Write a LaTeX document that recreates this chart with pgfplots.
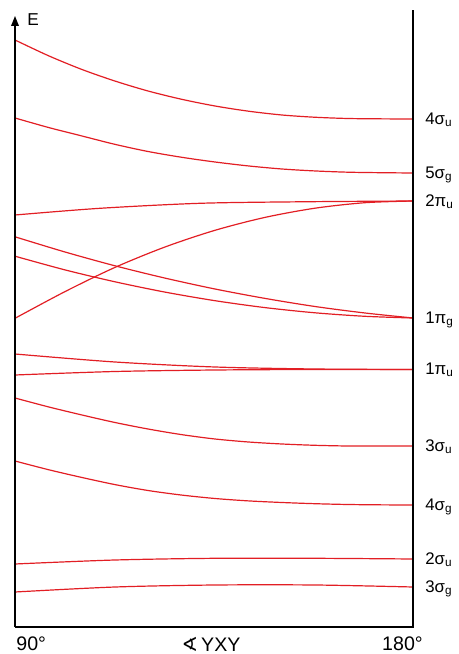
\documentclass[border=0pt]{standalone}
\usepackage{pgfplots}
\pgfplotsset{compat=1.18}
\usepackage{fontspec}
\setmainfont{Liberation Sans}
\newfontfamily\dejavu{DejaVu Sans}
\usetikzlibrary{arrows.meta}
\definecolor{lred}{RGB}{226,30,36}
\begin{document}
\begin{tikzpicture}[wl/.style={draw=lred, line width=0.6pt, smooth, mark=none}]
\useasboundingbox (-7.5pt,-13.5pt) rectangle (222pt,313.5pt);
\begin{axis}[
  at={(0,0)}, anchor=south west,
  scale only axis, width=199pt, height=307.5pt,
  xmin=90, xmax=180, ymin=0, ymax=615,
  axis line style={draw=none}, ticks=none, clip=false,
]
% 4 sigma_u
\addplot[wl] coordinates {(90,587) (97.58,571.25) (105.15,557.5) (112.61,545.95) (120.08,536) (127.65,527.75) (135.23,521) (142.81,515.8) (150.38,512) (157.84,509.75) (165.30,508.5) (172.76,508.15) (180,508)};
% 5 sigma_g
\addplot[wl] coordinates {(90,509) (97.58,499.5) (105.15,491) (112.61,482.65) (120.08,475.5) (127.65,469.75) (135.23,465) (142.81,461.05) (150.38,458) (157.84,456.05) (165.30,454.8) (172.76,454.3) (180,454)};
% 2 pi_u (flat)
\addplot[wl] coordinates {(90,412) (109.22,418.7) (131.83,423.7) (154.45,425.2) (180,426)};
% to 1 pi_g (upper)
\addplot[wl] coordinates {(90,390.2) (101.31,375) (112.61,361.2) (123.92,348.9) (135.23,338) (146.53,328.6) (157.84,320.5) (169.15,314) (180,309)};
% to 1 pi_g (lower)
\addplot[wl] coordinates {(90,370.8) (101.31,357.1) (112.61,345.2) (123.92,334.9) (135.23,326.3) (146.53,319.4) (157.84,314.2) (169.15,310.7) (180,309)};
% rising to 2 pi_u
\addplot[wl] coordinates {(90,308.7) (101.31,335.4) (112.61,359.6) (123.92,380) (135.23,396.7) (146.53,409.6) (157.84,418.8) (169.15,424.3) (180,426)};
% 1 pi_u (upper)
\addplot[wl] coordinates {(90,273) (112.61,265) (135.23,260) (157.84,258) (180,257.5)};
% 1 pi_u (lower)
\addplot[wl] coordinates {(90,252) (112.61,255.5) (135.23,257) (157.84,257.5) (180,257.5)};
% 3 sigma_u
\addplot[wl] coordinates {(90,229) (97.58,220.1) (105.15,212) (112.61,204.5) (120.08,198) (127.65,192.4) (135.23,188) (142.81,185) (150.38,183) (157.84,181.7) (165.30,181) (172.76,181) (180,181)};
% 4 sigma_g
\addplot[wl] coordinates {(90,166) (97.58,157.3) (105.15,149.5) (112.61,142.4) (120.08,136.5) (127.65,131.95) (135.23,128.5) (142.81,126.1) (150.38,124.5) (157.84,123.3) (165.30,122.5) (172.76,122.15) (180,122)};
% 2 sigma_u
\addplot[wl] coordinates {(90,63) (112.61,67) (135.23,68.7) (157.84,68.7) (180,68)};
% 3 sigma_g
\addplot[wl] coordinates {(90,35) (112.61,40) (135.23,42) (157.84,42) (180,40)};

% frame
\draw[line width=0.75pt, -{Triangle[length=5pt,width=3.8pt]}] (axis cs:90,0) -- (axis cs:90,611);
\draw[line width=0.75pt] (axis cs:90,0) -- (axis cs:180,0) -- (axis cs:180,617);

% labels
\node[anchor=west, inner sep=0, font=\fontsize{8.6}{10}\selectfont] at (axis cs:90,607) [xshift=6pt] {E};
\begin{scope}[every node/.style={anchor=mid west, inner sep=0, xshift=6pt, font=\fontsize{8.4}{10}\selectfont}]
\node at (axis cs:180,508) {4σ\textsubscript{u}};
\node at (axis cs:180,454) {5σ\textsubscript{g}};
\node at (axis cs:180,426) {2π\textsubscript{u}};
\node at (axis cs:180,309) {1π\textsubscript{g}};
\node at (axis cs:180,257.5) {1π\textsubscript{u}};
\node at (axis cs:180,181) {3σ\textsubscript{u}};
\node at (axis cs:180,122) {4σ\textsubscript{g}};
\node at (axis cs:180,68) {2σ\textsubscript{u}};
\node at (axis cs:180,40) {3σ\textsubscript{g}};
\end{scope}
\end{axis}
\begin{scope}[every node/.style={inner sep=0, font=\fontsize{9.8}{11}\selectfont}]
\node[anchor=west] at (0.5pt,-8.5pt) {90°};
\node at (98pt,-8.5pt) {{\dejavu ∢}\,YXY};
\node at (193.75pt,-8.5pt) {180°};
\end{scope}
\end{tikzpicture}
\end{document}
